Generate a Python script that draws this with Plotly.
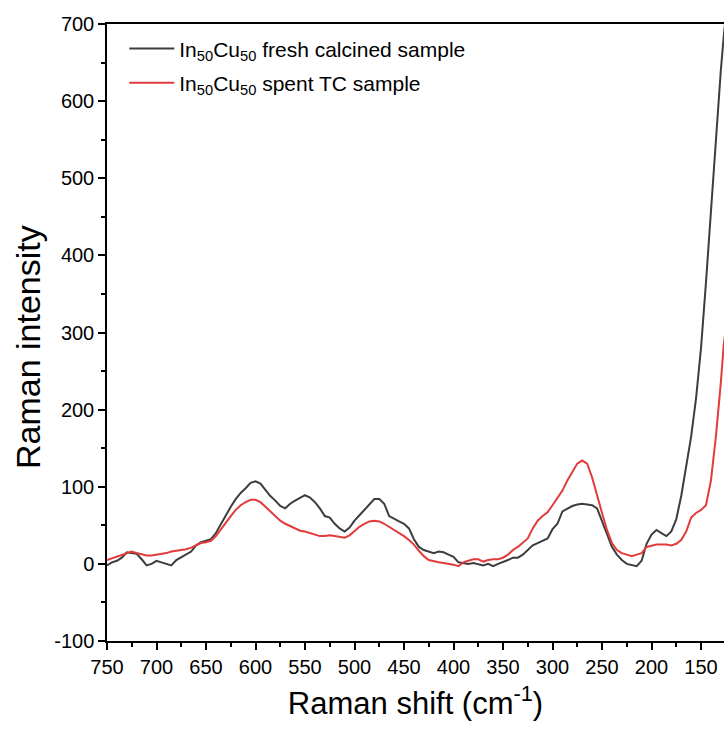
import plotly.graph_objects as go

# Raman shift grid (cm^-1), 5 cm^-1 steps
shift = [750, 745, 740, 735, 730, 725, 720, 715, 710, 705, 700, 695, 690, 685, 680, 675, 670, 665, 660, 655,
         650, 645, 640, 635, 630, 625, 620, 615, 610, 605, 600, 595, 590, 585, 580, 575, 570, 565, 560, 555,
         550, 545, 540, 535, 530, 525, 520, 515, 510, 505, 500, 495, 490, 485, 480, 475, 470, 465, 460, 455,
         450, 445, 440, 435, 430, 425, 420, 415, 410, 405, 400, 395, 390, 385, 380, 375, 370, 365, 360, 355,
         350, 345, 340, 335, 330, 325, 320, 315, 310, 305, 300, 295, 290, 285, 280, 275, 270, 265, 260, 255,
         250, 245, 240, 235, 230, 225, 220, 215, 210, 205, 200, 195, 190, 185, 180, 175, 170, 165, 160, 155,
         150, 145, 140, 135, 130, 127, 125]

fresh = [-2, 2, 4, 8, 15, 14, 13, 6, -2, 0, 4, 2, 0, -2, 5, 9, 12, 16, 24, 28,
         30, 32, 40, 52, 64, 74, 84, 92, 98, 105, 107, 104, 96, 88, 82, 75, 72, 78, 82, 86,
         89, 86, 80, 72, 62, 60, 52, 46, 42, 47, 56, 63, 70, 77, 84, 84, 78, 62, 58, 55,
         52, 46, 32, 22, 18, 16, 14, 16, 15, 12, 9, 2, 1, 0, 1, -1, -2, 0, -3, 0,
         2, 5, 8, 8, 12, 18, 24, 27, 30, 33, 45, 52, 68, 72, 75, 77, 78, 77, 76, 72,
         55, 38, 22, 12, 5, 0, -2, -3, 4, 26, 38, 44, 40, 36, 42, 58, 88, 125, 165, 215,
         280, 365, 460, 555, 640, 685, 710]

spent = [5, 7, 10, 12, 14, 16, 14, 12, 11, 11, 12, 13, 14, 16, 17, 18, 19, 21, 24, 27,
         28, 30, 36, 45, 53, 62, 70, 76, 80, 83, 83, 80, 74, 68, 62, 56, 52, 49, 46, 43,
         42, 40, 37, 36, 36, 37, 36, 35, 34, 37, 43, 48, 52, 55, 56, 55, 52, 48, 45, 40,
         36, 31, 25, 17, 10, 5, 3, 2, 1, 0, -1, -3, 2, 4, 6, 6, 3, 5, 6, 6,
         8, 12, 18, 22, 27, 33, 46, 56, 62, 67, 76, 85, 95, 108, 120, 130, 134, 130, 112, 88,
         66, 44, 27, 18, 14, 12, 10, 12, 14, 22, 24, 25, 25, 25, 24, 26, 31, 42, 60, 66,
         70, 76, 108, 165, 235, 285, 305]

names = ["In<sub>50</sub>Cu<sub>50</sub> fresh calcined sample",
         "In<sub>50</sub>Cu<sub>50</sub> spent TC sample"]
colors = ["#3d3d3d", "#e23b3b"]

y_ticks = [-100, 0, 100, 200, 300, 400, 500, 600, 700]
x_ticks = [750, 700, 650, 600, 550, 500, 450, 400, 350, 300, 250, 200, 150]
x_title = "Raman shift (cm<sup>-1</sup>)"
y_title = "Raman intensity"

fig = go.Figure()
for i, (vals, nm, col) in enumerate(zip([fresh, spent], names, colors)):
    fig.add_trace(go.Scatter(x=shift, y=vals, mode="lines", name=nm,
                             legendgroup=str(i),
                             line=dict(color=col, width=2)))

font_family = "Liberation Sans, Arial, sans-serif"
fig.update_layout(
    width=724, height=731,
    margin=dict(l=107, r=0, t=24, b=90),
    paper_bgcolor="white", plot_bgcolor="white",
    font=dict(family=font_family, color="black", size=20),
    showlegend=True,
    legend=dict(x=0.028, y=0.993, xanchor="left", yanchor="top",
                bgcolor="rgba(0,0,0,0)", font=dict(size=21, family=font_family),
                tracegroupgap=4, itemwidth=45),
    xaxis=dict(
        range=[750, 126.8], autorange=False,
        tickmode="array", tickvals=x_ticks, ticktext=[str(v) for v in x_ticks],
        ticks="outside", ticklen=7, tickwidth=1.5, tickcolor="black",
        minor=dict(dtick=25, ticks="outside", ticklen=4, tickwidth=1.5, tickcolor="black", tick0=0),
        showline=True, linecolor="black", linewidth=1.5, mirror=True,
        showgrid=False, zeroline=False,
        tickfont=dict(size=20),
        title=dict(text=x_title, font=dict(size=31), standoff=16),
    ),
    yaxis=dict(
        range=[-100, 700], autorange=False,
        tickmode="array", tickvals=y_ticks, ticktext=[str(v) if v >= 0 else "-" + str(-v) for v in y_ticks],
        ticks="outside", ticklen=7, tickwidth=1.5, tickcolor="black",
        minor=dict(dtick=50, ticks="outside", ticklen=4, tickwidth=1.5, tickcolor="black", tick0=0),
        showline=True, linecolor="black", linewidth=1.5, mirror=False,
        showgrid=False, zeroline=False,
        tickfont=dict(size=20),
    ),
    annotations=[dict(text=y_title, xref="paper", yref="paper",
                      x=-0.128, y=0.4765, xanchor="center", yanchor="middle",
                      textangle=-90, showarrow=False,
                      font=dict(size=34, family=font_family, color="black"))],
)

fig.write_html("out.html",
               config={"displayModeBar": False},
               post_script="document.body.style.margin='0';document.body.style.overflow='hidden';")
